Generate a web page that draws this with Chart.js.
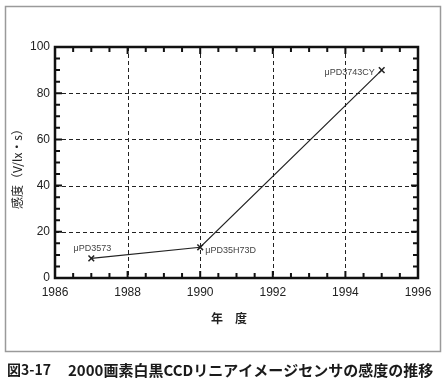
<!DOCTYPE html>
<html>
<head>
<meta charset="utf-8">
<script src="https://cdn.jsdelivr.net/npm/chart.js@4.4.1/dist/chart.umd.min.js"></script>
<style>
  html, body { margin: 0; padding: 0; background: #fff; }
  #wrap { width: 444px; height: 385px; }
</style>
</head>
<body>
<div id="wrap"><canvas id="chart" width="444" height="385"></canvas></div>
<script>
const years = [1987, 1990, 1995];
const sensitivity = [8.5, 13.3, 90];
const deviceNames = ["μPD3573", "μPD35H73D", "μPD3743CY"];
const xRange = [1986, 1996];
const yRange = [0, 100];
const xTitle = "年　度";
const yTitle = "感度（V/lx・s）";
const captionNo = "図3-17";
const caption = "2000画素白黒CCDリニアイメージセンサの感度の推移";

const JP = "'Noto Sans CJK JP', sans-serif";
const LAT = "'Liberation Sans', Arial, sans-serif";

// grid, inside ticks, frame, labels
const framePlugin = {
    id: "frame",
    beforeDraw(chart) {
        const ctx = chart.ctx;
        ctx.save();
        ctx.fillStyle = "#fff";
        ctx.fillRect(0, 0, chart.width, chart.height);
        ctx.strokeStyle = "#9a9a9a";
        ctx.lineWidth = 1.5;
        ctx.strokeRect(5.5, 6.5, 435, 345);
        ctx.restore();
    },
    beforeDatasetsDraw(chart) {
        const ctx = chart.ctx;
        const a = chart.chartArea;
        const xs = chart.scales.x, ys = chart.scales.y;
        ctx.save();
        // dashed grid at major values
        ctx.strokeStyle = "#222";
        ctx.lineWidth = 1;
        ctx.setLineDash([4, 3]);
        xs.ticks.forEach(t => {
            if (t.value % 2 !== 0 || t.value === xRange[0] || t.value === xRange[1]) return;
            const px = Math.round(xs.getPixelForValue(t.value)) + 0.5;
            ctx.beginPath(); ctx.moveTo(px, a.top); ctx.lineTo(px, a.bottom); ctx.stroke();
        });
        ys.ticks.forEach(t => {
            if (t.value % 20 !== 0 || t.value === yRange[0] || t.value === yRange[1]) return;
            const py = Math.round(ys.getPixelForValue(t.value)) + 0.5;
            ctx.beginPath(); ctx.moveTo(a.left, py); ctx.lineTo(a.right, py); ctx.stroke();
        });
        ctx.setLineDash([]);
        // inside ticks on all four sides
        ctx.strokeStyle = "#111";
        ctx.lineWidth = 2;
        xs.ticks.forEach(t => {
            const len = t.value % 2 === 0 ? 7 : 5;
            const px = xs.getPixelForValue(t.value);
            ctx.beginPath();
            ctx.moveTo(px, a.bottom); ctx.lineTo(px, a.bottom - len);
            ctx.moveTo(px, a.top); ctx.lineTo(px, a.top + len);
            ctx.stroke();
        });
        ys.ticks.forEach(t => {
            const len = t.value % 20 === 0 ? 7 : 5;
            const py = ys.getPixelForValue(t.value);
            ctx.beginPath();
            ctx.moveTo(a.left, py); ctx.lineTo(a.left + len, py);
            ctx.moveTo(a.right, py); ctx.lineTo(a.right - len, py);
            ctx.stroke();
        });
        ctx.lineWidth = 2.5;
        ctx.strokeRect(a.left, a.top, a.right - a.left, a.bottom - a.top);
        ctx.restore();
    },
    afterDraw(chart) {
        const ctx = chart.ctx;
        const xs = chart.scales.x, ys = chart.scales.y;
        ctx.save();
        // device labels
        ctx.fillStyle = "#444";
        ctx.font = "9px " + LAT;
        ctx.textBaseline = "middle";
        const p = i => ({ x: xs.getPixelForValue(years[i]), y: ys.getPixelForValue(sensitivity[i]) });
        let q = p(0);
        ctx.textAlign = "center";
        ctx.fillText(deviceNames[0], q.x + 1, q.y - 10);
        q = p(1);
        ctx.textAlign = "left";
        ctx.fillText(deviceNames[1], q.x + 5, q.y + 3);
        q = p(2);
        ctx.textAlign = "right";
        ctx.fillText(deviceNames[2], q.x - 7, q.y + 2);

        // axis titles
        ctx.fillStyle = "#222";
        ctx.textAlign = "center";
        ctx.font = "bold 12px " + JP;
        ctx.fillText(xTitle, 229, 318);
        ctx.save();
        ctx.translate(17, 166);
        ctx.rotate(-Math.PI / 2);
        ctx.font = "12px " + JP;
        ctx.fillText(yTitle, 0, 0);
        ctx.restore();

        // caption
        ctx.fillStyle = "#1a1a1a";
        ctx.textAlign = "left";
        ctx.font = "bold 14px " + JP;
        ctx.fillText(captionNo, 7, 370);
        ctx.font = "bold 15px " + JP;
        ctx.fillText(caption, 68, 370);
        ctx.restore();
    }
};

new Chart(document.getElementById("chart"), {
    type: "scatter",
    data: {
        datasets: [{
            data: years.map((y, i) => ({ x: y, y: sensitivity[i] })),
            showLine: true,
            borderColor: "#222",
            borderWidth: 1.2,
            pointStyle: "crossRot",
            pointRadius: 4,
            pointBorderWidth: 1.5,
            pointBorderColor: "#222",
            tension: 0
        }]
    },
    options: {
        responsive: false,
        animation: false,
        layout: { padding: { left: 5, top: 47, right: 26, bottom: 0 } },
        plugins: { legend: { display: false }, tooltip: { enabled: false } },
        scales: {
            x: {
                type: "linear",
                min: xRange[0],
                max: xRange[1],
                afterFit: s => { s.height = 107; },
                grid: { display: false, drawTicks: false },
                border: { display: false },
                ticks: {
                    stepSize: 0.5,
                    autoSkip: false,
                    maxRotation: 0,
                    padding: 7,
                    color: "#222",
                    font: { family: LAT, size: 12 },
                    callback: v => (v % 2 === 0 ? String(v) : "")
                }
            },
            y: {
                min: yRange[0],
                max: yRange[1],
                afterFit: s => { s.width = 50; },
                grid: { display: false, drawTicks: false },
                border: { display: false },
                ticks: {
                    stepSize: 5,
                    autoSkip: false,
                    padding: 5,
                    color: "#222",
                    font: { family: LAT, size: 12 },
                    callback: v => (v % 20 === 0 ? String(v) : "")
                }
            }
        }
    },
    plugins: [framePlugin]
});
</script>
</body>
</html>
